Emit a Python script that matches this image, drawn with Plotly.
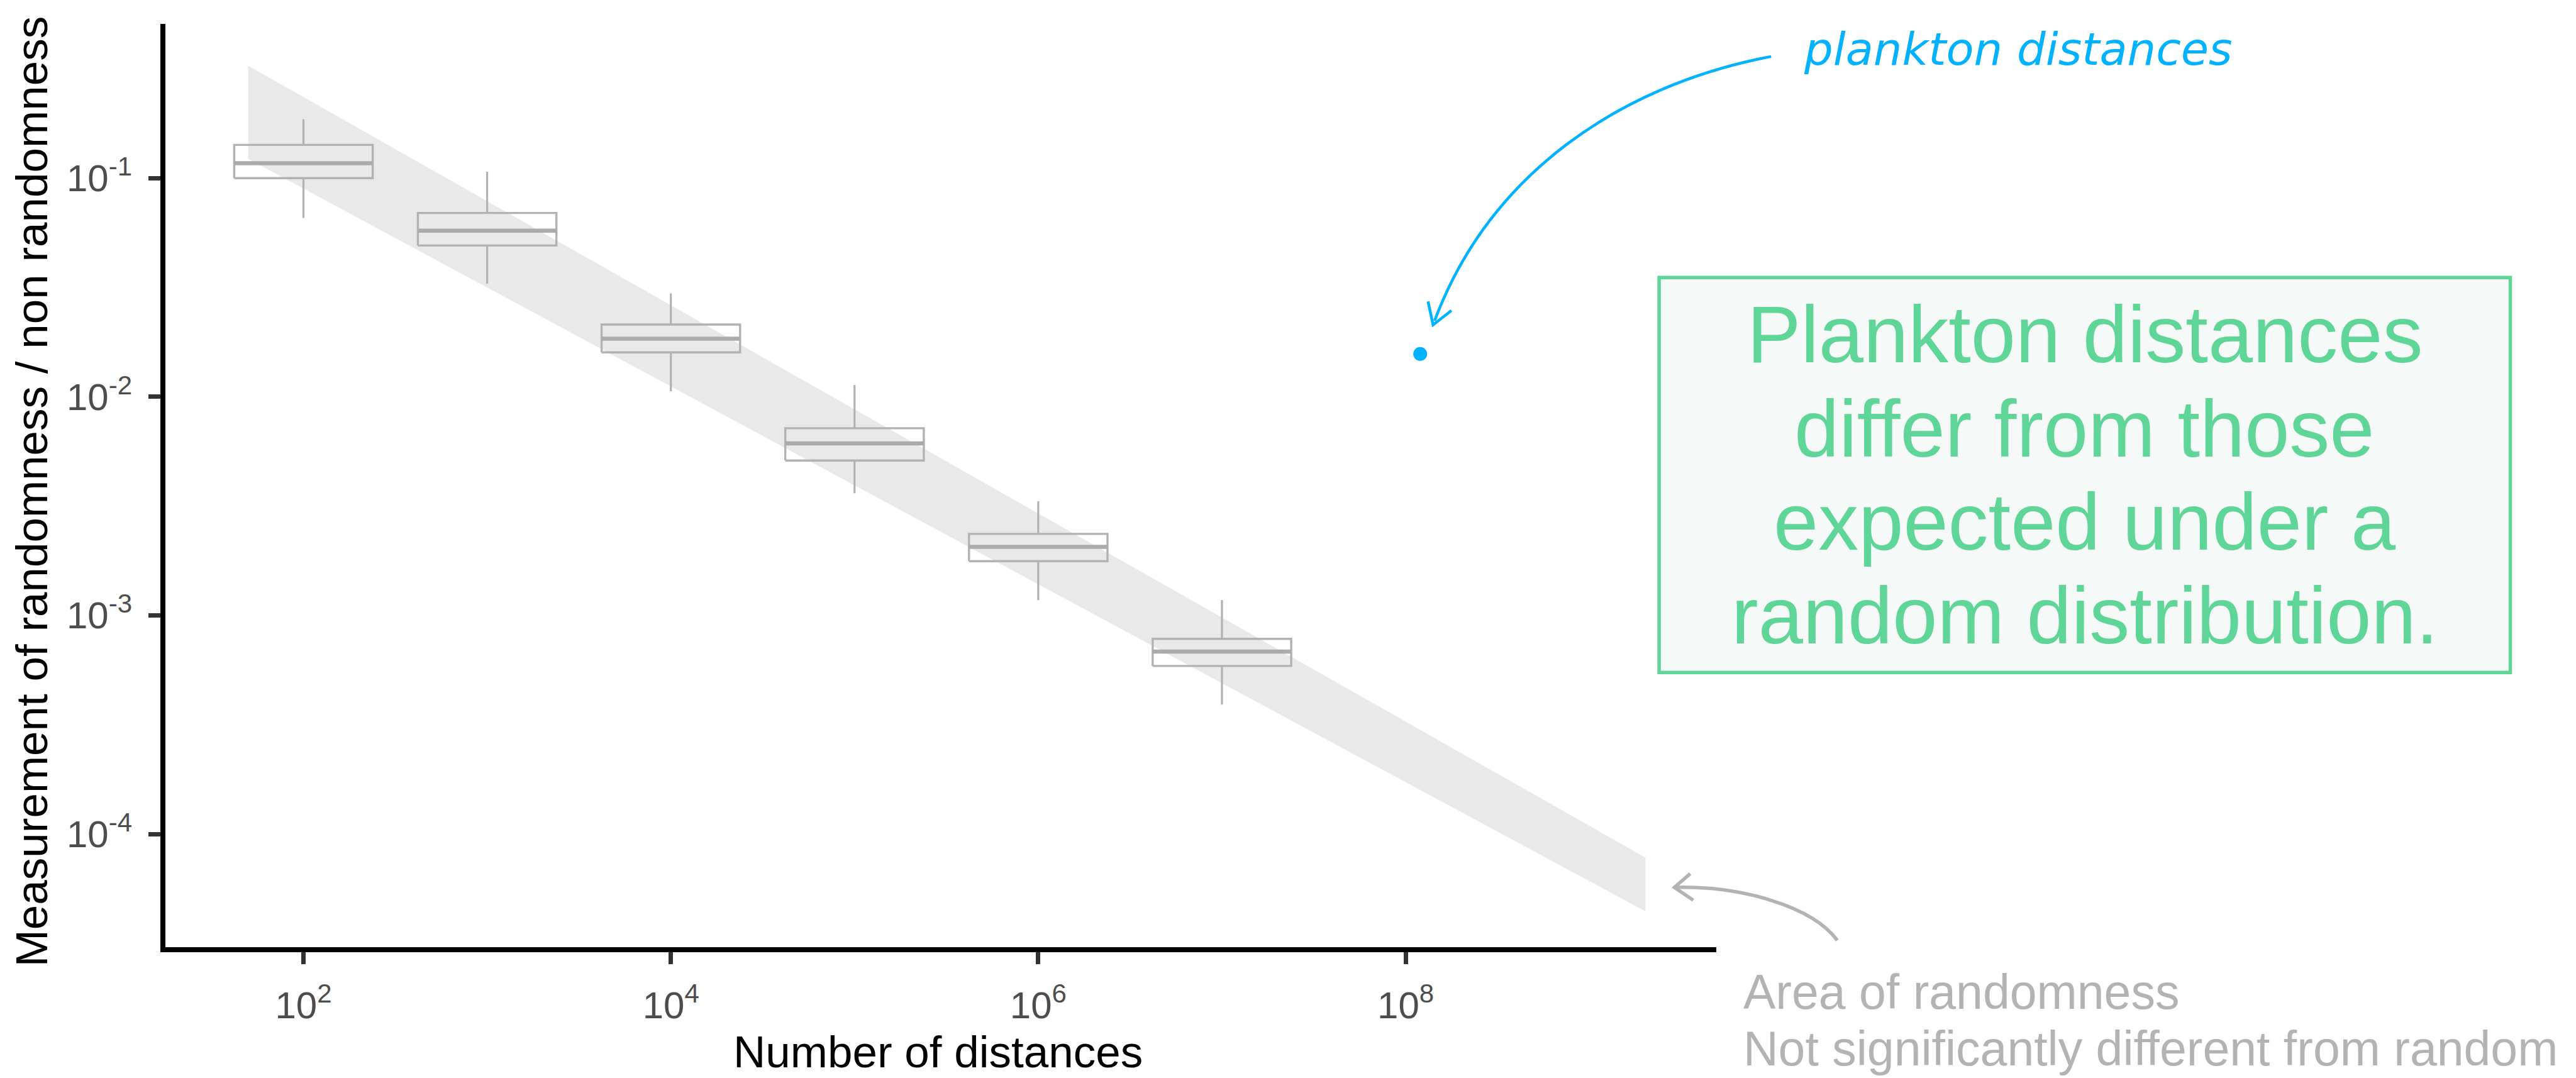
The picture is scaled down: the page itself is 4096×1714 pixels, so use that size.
import plotly.graph_objects as go

# ---------------- data ----------------
box_x = [1e2, 1e3, 1e4, 1e5, 1e6, 1e7]
whisker_low = [0.0658, 0.0329, 0.01061, 0.00362, 0.001175, 0.000391]
q1 = [0.100, 0.0492, 0.01596, 0.00511, 0.00177, 0.000587]
median = [0.117, 0.0575, 0.01845, 0.00612, 0.00206, 0.000683]
q3 = [0.142, 0.0693, 0.0214, 0.00718, 0.00236, 0.000781]
whisker_high = [0.186, 0.107, 0.0297, 0.01132, 0.00333, 0.001175]

band_x = [50, 2.02e9]
band_upper = [0.327, 7.81e-5]
band_lower = [0.1227, 4.43e-5]

plankton_x = [1.2e8]
plankton_y = [0.0157]

x_tickvals = [1e2, 1e4, 1e6, 1e8]
x_ticktext = ["10<sup>2</sup>", "10<sup>4</sup>", "10<sup>6</sup>", "10<sup>8</sup>"]
y_tickvals = [1e-1, 1e-2, 1e-3, 1e-4]
y_ticktext = ["10<sup>-1</sup>", "10<sup>-2</sup>", "10<sup>-3</sup>", "10<sup>-4</sup>"]

box_lines = ["Plankton distances", "differ from those", "expected under a", "random distribution."]
note_lines = ["Area of randomness", "Not significantly different from random"]

# ---------------- geometry helpers ----------------
W, H = 4096, 1714
S = W / 5060.0
L, RGT, T, B = 263, 2729, 38, 1506
PW, PH = RGT - L, B - T
BOX_HALF = 10 ** 0.377  # half box width, in decades


def px(fx):
    return (fx * S - L) / PW


def py(fy):
    return (B - fy * S) / PH


FONT = "Liberation Sans, Arial, Helvetica, sans-serif"
GREEN = "#5FD598"
BLUE = "#00B2FF"
GRAY = "#B3B3B3"
BOXC = "#B2B2B2"

fig = go.Figure()

# band (area of randomness)
fig.add_trace(go.Scatter(
    x=band_x + band_x[::-1], y=band_upper + band_lower[::-1],
    fill="toself", fillcolor="#E9E9E9", mode="lines",
    line=dict(width=0, color="rgba(0,0,0,0)"), hoverinfo="skip"))

# boxes
bx, by, mx, my, wx, wy = [], [], [], [], [], []
for xc, lo, a, m, b, hi in zip(box_x, whisker_low, q1, median, q3, whisker_high):
    x0, x1 = xc / BOX_HALF, xc * BOX_HALF
    bx += [x0, x1, x1, x0, x0, None]
    by += [a, a, b, b, a, None]
    mx += [x0, x1, None]
    my += [m, m, None]
    wx += [xc, xc, None, xc, xc, None]
    wy += [b, hi, None, a, lo, None]

fig.add_trace(go.Scatter(x=wx, y=wy, mode="lines", line=dict(color=BOXC, width=3.2), hoverinfo="skip"))
fig.add_trace(go.Scatter(x=bx, y=by, mode="lines", line=dict(color=BOXC, width=3.4), hoverinfo="skip"))
fig.add_trace(go.Scatter(x=mx, y=my, mode="lines", line=dict(color="#ABABAB", width=6.5), hoverinfo="skip"))

# plankton point
fig.add_trace(go.Scatter(x=plankton_x, y=plankton_y, mode="markers",
                         marker=dict(color=BLUE, size=22, line=dict(width=0)), hoverinfo="skip"))

shapes = []
# green box
shapes.append(dict(type="rect", xref="paper", yref="paper",
                   x0=px(3259), x1=px(4931), y0=py(545), y1=py(1321),
                   line=dict(color=GREEN, width=5.5), fillcolor="#F5F9F8", layer="below"))


def cubic(p0, p1, p2, p3):
    return "M {:.5f},{:.5f} C {:.5f},{:.5f} {:.5f},{:.5f} {:.5f},{:.5f}".format(
        px(p0[0]), py(p0[1]), px(p1[0]), py(p1[1]), px(p2[0]), py(p2[1]), px(p3[0]), py(p3[1]))


def poly(pts):
    return "M " + " L ".join("{:.5f},{:.5f}".format(px(a), py(b)) for a, b in pts)


# blue arrow
shapes.append(dict(type="path", xref="paper", yref="paper",
                   path=cubic((3479, 111), (3179, 168), (2925, 344), (2818, 630)),
                   line=dict(color=BLUE, width=4.5)))
shapes.append(dict(type="path", xref="paper", yref="paper",
                   path=poly([(2805, 592), (2815, 638), (2851, 610)]),
                   line=dict(color=BLUE, width=4.5)))
# gray arrow
shapes.append(dict(type="path", xref="paper", yref="paper",
                   path=cubic((3609, 1847), (3560, 1780), (3420, 1740), (3292, 1743)),
                   line=dict(color=GRAY, width=5.5)))
shapes.append(dict(type="path", xref="paper", yref="paper",
                   path=poly([(3320, 1716), (3289, 1743), (3326, 1768)]),
                   line=dict(color=GRAY, width=5.5)))

annotations = []
# box text
for fy, txt in zip([711, 897, 1080, 1264], box_lines):
    annotations.append(dict(xref="paper", yref="paper", x=px(4095),
                            y=(B - (fy * S - 0.3465 * 128)) / PH,
                            text=txt, showarrow=False, xanchor="center", yanchor="middle",
                            font=dict(family=FONT, size=128, color=GREEN)))
# gray note
for fy, txt in zip([1981, 2092], note_lines):
    annotations.append(dict(xref="paper", yref="paper", x=px(3422),
                            y=(B - (fy * S - 0.3465 * 77)) / PH,
                            text=txt, showarrow=False, xanchor="left", yanchor="middle",
                            font=dict(family=FONT, size=77, color=GRAY)))
# handwritten label
annotations.append(dict(xref="paper", yref="paper", x=px(3540),
                        y=(B - (127 * S - 0.346 * 72)) / PH,
                        text="plankton distances", showarrow=False, xanchor="left", yanchor="middle",
                        font=dict(family="DejaVu Sans, sans-serif", size=72, color=BLUE, style="italic")))
# axis titles
annotations.append(dict(xref="paper", yref="paper", x=px(1843),
                        y=(B - (2097 * S - 0.3465 * 71)) / PH,
                        text="Number of distances", showarrow=False, xanchor="center", yanchor="middle",
                        borderpad=0,
                        font=dict(family=FONT, size=71, color="black")))
annotations.append(dict(xref="paper", yref="paper", x=px(62), y=py(965),
                        text="Measurement of randomness / non randomness", showarrow=False,
                        textangle=-90, xanchor="center", yanchor="middle",
                        font=dict(family=FONT, size=71, color="black")))

fig.update_layout(
    width=W, height=H,
    margin=dict(l=L, r=W - RGT, t=T, b=H - B, pad=0),
    paper_bgcolor="white", plot_bgcolor="white",
    showlegend=False,
    shapes=shapes, annotations=annotations,
    xaxis=dict(type="log", range=[1.2485, 9.691], tickvals=x_tickvals, ticktext=x_ticktext,
               showgrid=False, zeroline=False, showline=True, linecolor="black", linewidth=8,
               ticks="outside", ticklen=19, tickwidth=7, tickcolor="#333333",
               ticklabelstandoff=14,
               tickfont=dict(family=FONT, size=60, color="#4D4D4D")),
    yaxis=dict(type="log", range=[-4.5176, -0.2943], tickvals=y_tickvals, ticktext=y_ticktext,
               showgrid=False, zeroline=False, showline=True, linecolor="black", linewidth=8,
               ticks="outside", ticklen=19, tickwidth=7, tickcolor="#333333",
               ticklabelstandoff=14,
               tickfont=dict(family=FONT, size=60, color="#4D4D4D")),
)

fig.write_html("out.html")
